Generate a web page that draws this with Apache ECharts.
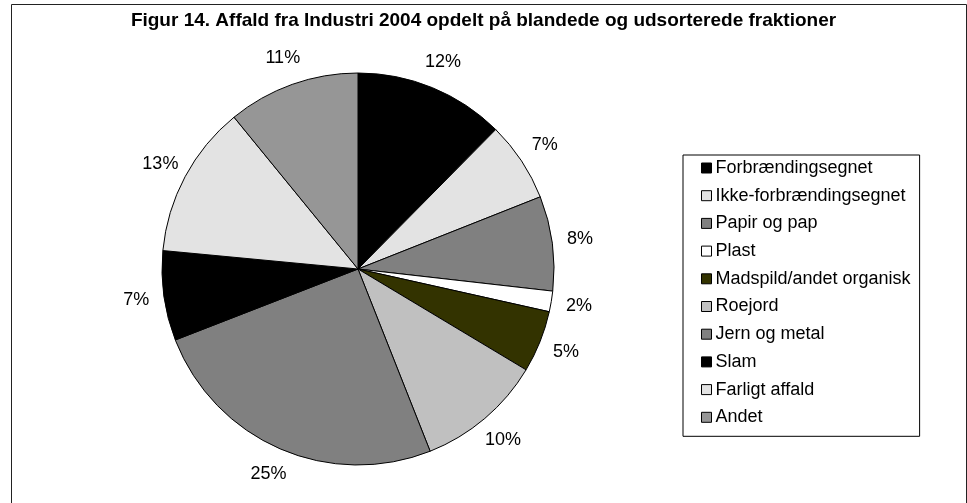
<!DOCTYPE html>
<html>
<head>
<meta charset="utf-8">
<title>Figur 14</title>
<script src="https://cdn.jsdelivr.net/npm/echarts@6/dist/echarts.min.js"></script>
<style>
  html, body { margin: 0; padding: 0; background: #fff; }
  #chart { width: 967px; height: 503px; }
</style>
</head>
<body>
<div id="chart"></div>
<script>
// andel i procent, læst af figuren
const fraktioner = [
  'Forbrændingsegnet',
  'Ikke-forbrændingsegnet',
  'Papir og pap',
  'Plast',
  'Madspild/andet organisk',
  'Roejord',
  'Jern og metal',
  'Slam',
  'Farligt affald',
  'Andet'
]
const andele = [12.4, 6.6, 7.8, 1.7, 5.1, 10.4, 25.1, 7.4, 12.6, 10.9]
const farver = ['#000000', '#E3E3E3', '#808080', '#FFFFFF', '#333300',
                '#C0C0C0', '#808080', '#000000', '#E3E3E3', '#969696']

const chart = echarts.init(document.getElementById('chart'))

const font = 'Liberation Sans, Arial, sans-serif'
const center = [358, 269]

const option = {
  animation: false,
  backgroundColor: '#fff',
  textStyle: { fontFamily: font },
  title: {
    text: 'Figur 14. Affald fra Industri 2004 opdelt på blandede og udsorterede fraktioner',
    left: 'center',
    top: 11,
    padding: 0,
    textStyle: { fontFamily: font, fontSize: 19, fontWeight: 'bold', color: '#000', lineHeight: 19 }
  },
  legend: {
    orient: 'vertical',
    left: 683,
    top: 155,
    padding: [4, 9, 10, 18],
    itemGap: 9.7,
    itemWidth: 10,
    itemHeight: 10,
    icon: 'rect',
    borderColor: '#000',
    borderWidth: 1,
    selectedMode: false,
    data: fraktioner,
    itemStyle: { borderColor: '#000', borderWidth: 1 },
    textStyle: { fontFamily: font, fontSize: 18, color: '#000', lineHeight: 18, padding: [0, 0, 0, -1] }
  },
  graphic: [{
    type: 'rect',
    shape: { x: 11.5, y: 4.5, width: 955, height: 510 },
    style: { fill: 'none', stroke: '#222', lineWidth: 1 },
    silent: true,
    z: 10
  }],
  series: [
    {
      name: 'Affald',
      type: 'pie',
      center: center,
      radius: [0, 196],
      startAngle: 90,
      clockwise: true,
      label: { show: false },
      labelLine: { show: false },
      emphasis: { disabled: true },
      itemStyle: { borderColor: '#000', borderWidth: 1 },
      data: fraktioner.map((navn, i) => ({
        name: navn,
        value: andele[i],
        itemStyle: { color: farver[i] }
      }))
    },
    {
      // ring kun til procentetiketterne uden for cirklen
      name: 'Etiketter',
      type: 'pie',
      center: center,
      radius: [210, 232],
      startAngle: 90,
      clockwise: true,
      silent: true,
      legendHoverLink: false,
      emphasis: { disabled: true },
      itemStyle: { color: 'rgba(0,0,0,0)' },
      labelLine: { show: false },
      label: {
        show: true,
        position: 'inside',
        fontFamily: font,
        fontSize: 18,
        color: '#000',
        formatter: p => Math.round(p.percent) + '%'
      },
      data: fraktioner.map((navn, i) => ({ name: navn, value: andele[i] }))
    }
  ]
}

chart.setOption(option)
</script>
</body>
</html>
